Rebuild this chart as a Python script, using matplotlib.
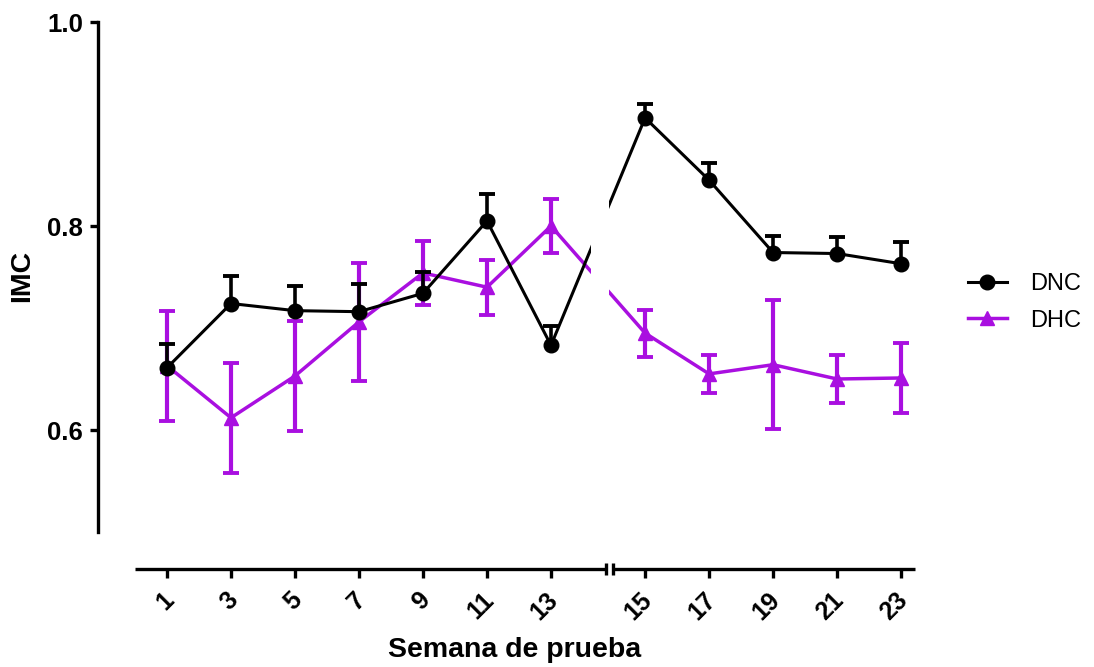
import numpy as np
import matplotlib
matplotlib.use("Agg")
import matplotlib.pyplot as plt
from matplotlib import transforms

plt.rcParams['font.family'] = ['Liberation Sans', 'DejaVu Sans']

weeks = [1, 3, 5, 7, 9, 11, 13, 15, 17, 19, 21, 23]
dnc = [0.661, 0.724, 0.717, 0.716, 0.734, 0.805, 0.683, 0.906, 0.845, 0.774, 0.773, 0.763]
dnc_err = [0.023, 0.027, 0.024, 0.027, 0.021, 0.026, 0.019, 0.014, 0.017, 0.016, 0.016, 0.021]
dhc = [0.663, 0.612, 0.653, 0.706, 0.754, 0.740, 0.800, 0.695, 0.655, 0.664, 0.650, 0.651]
dhc_err = [0.054, 0.054, 0.054, 0.058, 0.031, 0.027, 0.026, 0.023, 0.019, 0.063, 0.024, 0.034]
yticks = [0.6, 0.8, 1.0]

PURPLE = '#A90FE0'
GAP = 0.94  # extra room given to the 13-15 interval (axis break)


def fwd(x):
    x = np.asarray(x, float)
    return np.where(x <= 13, x, np.where(x >= 15, x + GAP, 13 + (x - 13) * (2 + GAP) / 2))


def inv(p):
    p = np.asarray(p, float)
    return np.where(p <= 13, p, np.where(p >= 15 + GAP, p - GAP, 13 + (p - 13) * 2 / (2 + GAP)))


fig = plt.figure(figsize=(10.94, 6.67), dpi=100)
ax = fig.add_axes([135 / 1094, 1 - 532 / 667, 780 / 1094, 510 / 667])
ax.set_xscale('function', functions=(fwd, inv))

# spines first (set_position resets the ticks)
for s in ['top', 'right']:
    ax.spines[s].set_visible(False)
ax.spines['left'].set_position(('outward', 26.6))
ax.spines['left'].set_linewidth(2.4)
ax.spines['bottom'].set_position(('outward', 26.6))
ax.spines['bottom'].set_visible(False)

x = np.array(weeks)

# DHC (purple) underneath
eb2 = ax.errorbar(x, dhc, yerr=dhc_err, color=PURPLE, lw=2.5, marker='^', ms=10,
                  elinewidth=3, capsize=5.8, capthick=2.8, zorder=3, label='DHC')
# DNC (black) on top, upper error only
eb1 = ax.errorbar(x, dnc, yerr=[np.zeros(len(dnc)), dnc_err], color='black', lw=2.2,
                  marker='o', ms=10.5, elinewidth=2.6, capsize=5.8, capthick=2.8,
                  zorder=4, label='DNC')
for cl in eb1[1]:
    if np.allclose(cl.get_ydata(), dnc):
        cl.set_visible(False)

# white gap where the axis is broken
xmin, xmax = 0, float(inv(24.375))
ax.axvspan(float(inv(14.25)), float(inv(14.81)), color='white', zorder=6, lw=0)

ax.set_xlim(xmin, xmax)
ax.set_ylim(0.5, 1.0)
ax.tick_params(axis='y', length=5.8, width=2.4, pad=5)
ax.tick_params(axis='x', length=6.5, width=2.4, pad=13)
ax.set_yticks(yticks)
ax.set_yticklabels([f'{v:.1f}' for v in yticks], fontsize=18.5, fontweight='bold')
ax.set_xticks(weeks)
ax.set_xticklabels([str(w) for w in weeks], fontsize=18, fontweight='bold',
                   rotation=45, ha='right', va='center', rotation_mode='anchor')
off = transforms.ScaledTranslation(0.03, 0, fig.dpi_scale_trans)
for lab in ax.get_xticklabels():
    lab.set_transform(lab.get_transform() + off)

# broken x axis line
tr = ax.get_xaxis_transform(which='tick1')
left_end = float(inv(14.72))
right_start = float(inv(14.94))
ax.plot([xmin, left_end], [0, 0], color='black', lw=2.4, transform=tr, clip_on=False,
        solid_capstyle='butt')
ax.plot([right_start, xmax], [0, 0], color='black', lw=2.4, transform=tr, clip_on=False,
        solid_capstyle='butt')
ax.plot([left_end, right_start], [0, 0], ls='none', marker='|', ms=8.6, mew=2.4,
        color='black', transform=tr, clip_on=False)
ax.set_xlim(xmin, xmax)
ax.set_ylim(0.5, 1.0)

ax.set_xlabel('Semana de prueba', fontsize=20.5, fontweight='bold', va='center')
ax.xaxis.set_label_coords(0.487, -0.231)
ax.set_ylabel('IMC', fontsize=20.5, fontweight='bold', va='center', ha='center')
ax.yaxis.set_label_coords(-0.145, 0.502)

ax.legend([eb1[0], eb2[0]], ['DNC', 'DHC'], frameon=False, fontsize=17, numpoints=1,
          handlelength=1.65, handletextpad=0.97, labelspacing=0.6, borderpad=0,
          borderaxespad=0, loc='center left',
          bbox_to_anchor=(968 / 1094, 1 - 302.5 / 667), bbox_transform=fig.transFigure)

fig.savefig('out.png', dpi=100)
